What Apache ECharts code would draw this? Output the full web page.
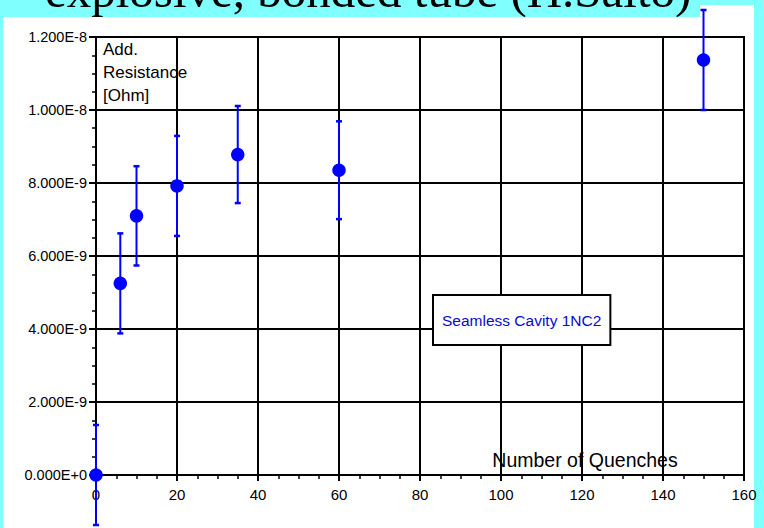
<!DOCTYPE html>
<html>
<head>
<meta charset="utf-8">
<script src="https://cdn.jsdelivr.net/npm/echarts@6/dist/echarts.min.js"></script>
<style>
  html, body { margin: 0; padding: 0; background: #80ffff; }
  #chart { width: 764px; height: 528px; }
</style>
</head>
<body>
<div id="chart"></div>
<script>
// Additional surface resistance of a seamless cavity vs. number of quenches
const quenches   = [0, 6, 10, 20, 35, 60, 150];
const resistance = [0, 5.25e-9, 7.10e-9, 7.92e-9, 8.78e-9, 8.35e-9, 11.37e-9];
const errorBars  = [1.37e-9, 1.37e-9, 1.36e-9, 1.37e-9, 1.33e-9, 1.34e-9, 1.37e-9];

const xRange = { min: 0, max: 160, step: 20 };
const yRange = { min: 0, max: 1.2e-8, step: 2e-9 };

const seriesName = 'Seamless Cavity 1NC2';
const slideTitle = 'explosive, bonded tube (H.Saito)';
const yTitleLines = ['Add.', 'Resistance', '[Ohm]'];
const xTitle = 'Number of Quenches';

const BLUE = '#0000ff';
const INK = '#000000';
const SANS = '"Liberation Sans", Arial, sans-serif';

// "1.200E-8" style tick labels
function sciLabel(v) {
  return Number(v).toExponential(3).toUpperCase();
}

const points = quenches.map((q, i) => [q, resistance[i]]);
const bars = quenches.map((q, i) => [q, resistance[i], errorBars[i]]);

const chart = echarts.init(document.getElementById('chart'), null, { renderer: 'svg' });

chart.setOption({
  animation: false,
  backgroundColor: 'transparent',
  grid: {
    left: 96, right: 20, top: 37, bottom: 53,
    show: true, borderColor: INK, borderWidth: 2
  },
  legend: {
    data: [{ name: seriesName, icon: 'none' }],
    left: 433, top: 295,
    itemWidth: 0, itemHeight: 0, itemGap: 0,
    padding: [17, 9, 17, 4],
    backgroundColor: '#ffffff',
    borderColor: INK, borderWidth: 2, borderRadius: 0,
    selectedMode: false,
    textStyle: { color: '#0a0acc', fontSize: 15.5, fontFamily: SANS }
  },
  xAxis: {
    type: 'value',
    min: xRange.min, max: xRange.max, interval: xRange.step,
    axisLine: { show: true, onZero: false, lineStyle: { color: INK, width: 2 } },
    axisTick: { show: true, inside: false, length: 6, lineStyle: { color: INK, width: 2 } },
    minorTick: { show: true, splitNumber: 4, length: 4, lineStyle: { color: INK, width: 1.5 } },
    splitLine: { show: true, lineStyle: { color: INK, width: 2 } },
    axisLabel: { color: INK, fontSize: 15, fontFamily: SANS, margin: 12 }
  },
  yAxis: {
    type: 'value',
    min: yRange.min, max: yRange.max, interval: yRange.step,
    axisLine: { show: true, onZero: false, lineStyle: { color: INK, width: 2 } },
    axisTick: { show: true, inside: false, length: 7, lineStyle: { color: INK, width: 2 } },
    minorTick: { show: true, splitNumber: 4, length: 4, lineStyle: { color: INK, width: 1.5 } },
    splitLine: { show: true, lineStyle: { color: INK, width: 2 } },
    axisLabel: { color: INK, fontSize: 14.5, fontFamily: SANS, margin: 9, formatter: sciLabel }
  },
  graphic: [
    // white panel and title strip behind the plot
    { type: 'rect', z: -20, silent: true,
      shape: { x: 3, y: 5, width: 751, height: 523 }, style: { fill: '#ffffff' } },
    { type: 'rect', z: -19, silent: true,
      shape: { x: 0, y: 0, width: 700, height: 17 }, style: { fill: '#80ffff' } },
    { type: 'text', z: -18, silent: true, x: 45, y: 15,
      style: { text: slideTitle, font: '49px "Liberation Serif", "Times New Roman", serif',
               fill: INK, verticalAlign: 'bottom', align: 'left' } },
    { type: 'text', silent: true, x: 103, y: 38,
      style: { text: yTitleLines.join('\n'), font: '17px ' + SANS, lineHeight: 23,
               fill: INK, verticalAlign: 'top', align: 'left' } },
    { type: 'text', silent: true, x: 585, y: 460,
      style: { text: xTitle, font: '19.5px ' + SANS, fill: INK,
               verticalAlign: 'middle', align: 'center' } }
  ],
  series: [
    {
      name: seriesName,
      type: 'custom',
      z: 3,
      clip: false,
      data: bars,
      encode: { x: 0, y: 1 },
      renderItem: function (params, api) {
        const x = api.value(0), y = api.value(1), e = api.value(2);
        const hi = api.coord([x, y + e]);
        const lo = api.coord([x, y - e]);
        const cap = 3;
        const style = { stroke: BLUE, lineWidth: 2 };
        return {
          type: 'group',
          children: [
            { type: 'line', shape: { x1: hi[0], y1: hi[1], x2: lo[0], y2: lo[1] }, style },
            { type: 'line', shape: { x1: hi[0] - cap, y1: hi[1], x2: hi[0] + cap, y2: hi[1] }, style: { stroke: BLUE, lineWidth: 2.5 } },
            { type: 'line', shape: { x1: lo[0] - cap, y1: lo[1], x2: lo[0] + cap, y2: lo[1] }, style: { stroke: BLUE, lineWidth: 2.5 } }
          ]
        };
      }
    },
    {
      name: seriesName,
      type: 'scatter',
      z: 4,
      clip: false,
      symbol: 'circle',
      symbolSize: 13.5,
      itemStyle: { color: BLUE, opacity: 1 },
      data: points
    }
  ]
});
</script>
</body>
</html>
